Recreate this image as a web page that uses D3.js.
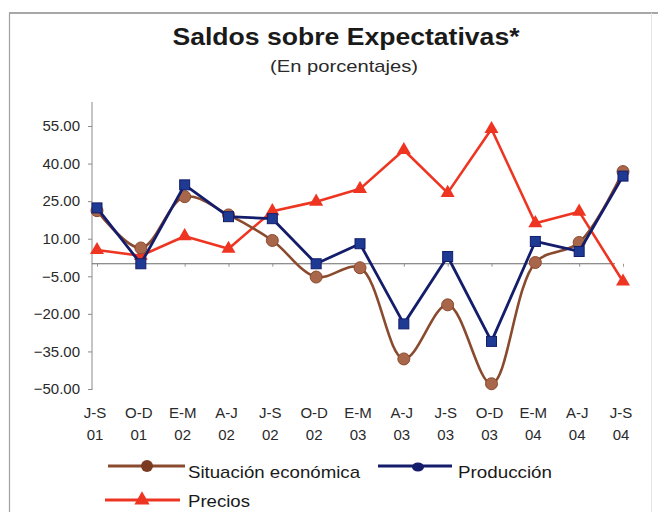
<!DOCTYPE html>
<html>
<head>
<meta charset="utf-8">
<script src="https://cdn.jsdelivr.net/npm/d3@7"></script>
<style>
  html, body { margin: 0; padding: 0; background: #fff; }
  svg { display: block; font-family: "Liberation Sans", Arial, sans-serif; }
</style>
</head>
<body>
<svg id="chart" width="658" height="512"></svg>
<script>
// ---- data ----
const periods = ["J-S", "O-D", "E-M", "A-J", "J-S", "O-D", "E-M", "A-J", "J-S", "O-D", "E-M", "A-J", "J-S"];
const years   = ["01", "01", "02", "02", "02", "02", "03", "03", "03", "03", "04", "04", "04"];
const situacion  = [21.2, 6.3, 26.8, 19.5, 9.3, -5.3, -1.6, -38, -16.4, -47.9, 0.5, 8.5, 36.8];
const produccion = [22.3, 0, 31.5, 18.8, 18, 0, 8, -24, 2.9, -31, 8.9, 4.9, 35];
const precios    = [5.5, 3.2, 11, 6, 21, 24.8, 29.9, 45.4, 28.3, 53.8, 16.2, 20.8, -7.1];
const yTicks = [55, 40, 25, 10, -5, -20, -35, -50];
const seriesNames = ["Situación económica", "Producción", "Precios"];

const svg = d3.select("#chart");

// frame
svg.append("line").attr("x1", 9).attr("x2", 658).attr("y1", 13).attr("y2", 13)
  .attr("stroke", "#8a8a8a").attr("stroke-width", 1.5);
svg.append("line").attr("x1", 9.5).attr("x2", 9.5).attr("y1", 13).attr("y2", 512)
  .attr("stroke", "#a0a0a0").attr("stroke-width", 1.2);
svg.append("line").attr("x1", 651.5).attr("x2", 651.5).attr("y1", 13).attr("y2", 512)
  .attr("stroke", "#e4e4e4").attr("stroke-width", 1);

// titles
svg.append("text").attr("x", 346).attr("y", 45).attr("text-anchor", "middle")
  .attr("font-size", 23).attr("font-weight", "bold").attr("fill", "#1a1a1a")
  .attr("textLength", 347).attr("lengthAdjust", "spacingAndGlyphs")
  .text("Saldos sobre Expectativas*");
svg.append("text").attr("x", 344).attr("y", 72).attr("text-anchor", "middle")
  .attr("font-size", 17).attr("fill", "#2a2a2a")
  .attr("textLength", 148).attr("lengthAdjust", "spacingAndGlyphs")
  .text("(En porcentajes)");

// scales
const x = d3.scalePoint().domain(d3.range(periods.length)).range([97, 623]);
const y = d3.scaleLinear().domain([-50, 55]).range([389, 126]);

// y axis
const yAxis = svg.append("g").attr("transform", "translate(92,0)")
  .call(d3.axisLeft(y).tickValues(yTicks).tickSize(4).tickSizeOuter(0).tickFormat(d3.format(".2f")));
yAxis.select(".domain").remove();
yAxis.append("line").attr("x1", 0).attr("x2", 0).attr("y1", 102).attr("y2", 390)
  .attr("stroke", "#8a8a8a");
yAxis.selectAll(".tick line").attr("stroke", "#8a8a8a");
yAxis.selectAll(".tick text").attr("font-size", 15).attr("fill", "#2a2a2a")
  .attr("x", -12).attr("font-family", "Liberation Sans, Arial, sans-serif");

// zero line (x axis)
const xAxis = svg.append("g").attr("transform", `translate(0,${y(0)})`)
  .call(d3.axisBottom(x).tickSize(3).tickFormat(""));
xAxis.select(".domain").remove();
xAxis.append("line").attr("x1", 92).attr("x2", 615).attr("y1", 0).attr("y2", 0)
  .attr("stroke", "#6a6a6a").attr("stroke-width", 1.2);
xAxis.selectAll(".tick line").attr("stroke", "#9a9a9a");

// category labels
const lab = svg.append("g");
lab.selectAll("text.p").data(periods).join("text").attr("class", "p")
  .attr("x", (d, i) => x(i) - 2).attr("y", 418).attr("text-anchor", "middle")
  .attr("font-size", 15).attr("fill", "#2a2a2a").text(d => d);
lab.selectAll("text.yr").data(years).join("text").attr("class", "yr")
  .attr("x", (d, i) => x(i) - 2).attr("y", 440).attr("text-anchor", "middle")
  .attr("font-size", 15).attr("fill", "#2a2a2a").text(d => d);

// lines
const straight = d3.line().x((d, i) => x(i)).y(d => y(d));
const smooth = d3.line().x((d, i) => x(i)).y(d => y(d)).curve(d3.curveCatmullRom.alpha(0.5));

const cBrown = "#8a4a2e", cBrownFill = "#a8674a";
const cNavy = "#141d6b", cNavyFill = "#1f3a93";
const cRed = "#ee3522";

// Precios
svg.append("path").datum(precios).attr("d", straight).attr("fill", "none")
  .attr("stroke", cRed).attr("stroke-width", 2.6).attr("stroke-linejoin", "round");
const tri = d3.symbol().type(d3.symbolTriangle).size(85);
svg.selectAll("path.tri").data(precios).join("path").attr("class", "tri")
  .attr("d", tri).attr("transform", (d, i) => `translate(${x(i)},${y(d)})`)
  .attr("fill", cRed);

// Situación económica
svg.append("path").datum(situacion).attr("d", smooth).attr("fill", "none")
  .attr("stroke", cBrown).attr("stroke-width", 2.6).attr("stroke-linejoin", "round");
svg.selectAll("circle.sit").data(situacion).join("circle").attr("class", "sit")
  .attr("cx", (d, i) => x(i)).attr("cy", d => y(d)).attr("r", 6)
  .attr("fill", cBrownFill).attr("stroke", cBrown).attr("stroke-width", 1);

// Producción
svg.append("path").datum(produccion).attr("d", straight).attr("fill", "none")
  .attr("stroke", cNavy).attr("stroke-width", 2.8).attr("stroke-linejoin", "round");
svg.selectAll("rect.prod").data(produccion).join("rect").attr("class", "prod")
  .attr("x", (d, i) => x(i) - 5).attr("y", d => y(d) - 5).attr("width", 10).attr("height", 10)
  .attr("fill", cNavyFill).attr("stroke", cNavy).attr("stroke-width", 1);

// legend
const lg = svg.append("g");
// Situación
lg.append("line").attr("x1", 108).attr("x2", 185).attr("y1", 466).attr("y2", 466)
  .attr("stroke", cBrown).attr("stroke-width", 3);
lg.append("circle").attr("cx", 147).attr("cy", 466).attr("r", 6).attr("fill", "#7a3b22");
lg.append("text").attr("x", 188).attr("y", 478).attr("font-size", 17).attr("fill", "#1a1a1a")
  .attr("textLength", 172).attr("lengthAdjust", "spacingAndGlyphs").text(seriesNames[0]);
// Producción
lg.append("line").attr("x1", 378).attr("x2", 452).attr("y1", 466).attr("y2", 466)
  .attr("stroke", cNavy).attr("stroke-width", 3);
lg.append("ellipse").attr("cx", 418).attr("cy", 467).attr("rx", 6).attr("ry", 4.5).attr("fill", cNavy);
lg.append("text").attr("x", 458).attr("y", 478).attr("font-size", 17).attr("fill", "#1a1a1a")
  .attr("textLength", 94).attr("lengthAdjust", "spacingAndGlyphs").text(seriesNames[1]);
// Precios
lg.append("line").attr("x1", 105).attr("x2", 180).attr("y1", 500).attr("y2", 500)
  .attr("stroke", cRed).attr("stroke-width", 3);
lg.append("path").attr("d", d3.symbol().type(d3.symbolTriangle).size(100))
  .attr("transform", "translate(142,500)").attr("fill", cRed);
lg.append("text").attr("x", 188).attr("y", 507).attr("font-size", 17).attr("fill", "#1a1a1a")
  .attr("textLength", 62).attr("lengthAdjust", "spacingAndGlyphs").text(seriesNames[2]);
</script>
</body>
</html>
